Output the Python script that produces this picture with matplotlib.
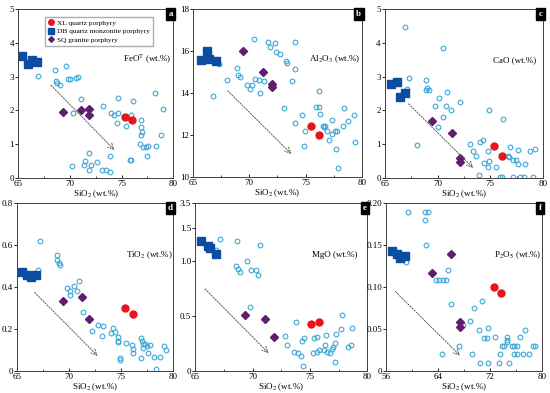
import numpy as np
import matplotlib
matplotlib.use("Agg")
import matplotlib.pyplot as plt

plt.rcParams['font.family'] = ['Liberation Serif', 'DejaVu Serif']
plt.rcParams['mathtext.fontset'] = 'stix'

# ---- data ----
# panel a: FeOT
a_gx = [66.9, 68.6, 69.6, 68.7, 68.8, 69.0, 69.8, 70.0, 70.6, 70.8, 71.1, 70.3, 73.2, 74.0, 74.3,
        74.7, 74.7, 74.6, 75.4, 76.1, 75.95, 76.9, 76.9, 77.0, 76.9, 76.8, 77.1, 77.4, 77.6, 78.3,
        78.8, 78.2, 79.0, 77.5, 75.8, 75.9, 73.9, 71.9, 71.5, 71.4, 72.0, 72.6, 71.9, 73.1, 73.5,
        73.9, 70.2]
a_gy = [3.03, 3.21, 3.31, 2.88, 2.80, 2.74, 2.94, 2.94, 2.97, 3.0, 2.35, 1.93, 2.14, 1.93, 1.86,
        1.91, 2.36, 1.64, 1.53, 2.28, 1.86, 1.73, 1.51, 1.36, 1.26, 1.02, 0.92, 0.92, 0.94, 0.95,
        1.28, 2.52, 2.04, 0.65, 0.52, 0.54, 0.64, 0.74, 0.50, 0.38, 0.38, 0.47, 0.23, 0.23, 0.23,
        0.18, 0.35]
a_bx = [65.4, 66.0, 66.3, 66.8]
a_by = [3.62, 3.38, 3.48, 3.42]
a_rx = [75.3, 76.0]
a_ry = [1.81, 1.73]
a_px = [69.3, 71.1, 71.9, 71.9]
a_py = [1.96, 2.0, 2.04, 1.86]
a_arrow = [(68.0, 2.8), (74.5, 0.77)]

# panel b: Al2O3
b_gx = [67.28, 68.0, 68.9, 68.96, 69.2, 69.8, 70.1, 70.2, 70.5, 70.9, 71.3, 70.98, 70.44, 71.7,
        71.8, 72.25, 72.37, 72.75, 73.3, 73.35, 74.08, 74.02, 73.8, 73.1, 74.08, 74.67, 74.97,
        74.9, 76.15, 75.95, 76.15, 76.24, 76.5, 76.65, 76.75, 76.9, 77.04, 77.3, 77.3, 77.57,
        77.78, 77.7, 78.37, 78.3, 78.8, 79.26, 79.4, 77.9, 66.8]
b_gy = [15.38, 14.6, 15.18, 14.86, 14.78, 14.38, 14.18, 14.4, 14.66, 14.62, 14.58, 13.99, 16.56,
        16.45, 16.2, 16.4, 15.95, 15.86, 15.5, 15.45, 16.45, 15.15, 14.55, 13.28, 12.56, 12.96,
        12.2, 11.49, 14.07, 13.32, 13.32, 12.99, 12.44, 12.4, 12.44, 12.17, 11.74, 12.06, 12.72,
        12.2, 12.2, 11.33, 13.28, 12.44, 12.64, 12.96, 11.65, 10.43, 13.85]
b_bx = [65.7, 66.2, 66.4, 67.0]
b_by = [15.55, 16.0, 15.6, 15.5]
b_rx = [75.45, 76.15]
b_ry = [12.44, 12.0]
b_px = [69.4, 71.2, 72.0, 72.0]
b_py = [16.0, 15.0, 14.45, 14.28]
b_arrow = [(67.9, 14.2), (73.9, 11.0)]

# panel c: CaO
c_gx = [66.9, 70.5, 67.3, 67.06, 68.9, 68.97, 69.2, 68.9, 70.9, 70.17, 69.76, 70.8, 71.25, 72.08,
        70.5, 70.08, 68.08, 74.87, 76.2, 73.1, 73.35, 73.67, 74.05, 74.27, 74.43, 74.78, 74.84,
        74.78, 75.57, 73.98, 75.9, 76.1, 76.84, 76.65, 76.78, 77.16, 77.48, 77.63, 77.6, 78.33,
        78.8, 79.29, 77.16, 77.8, 78.17, 79.06]
c_gy = [4.48, 3.85, 2.96, 2.64, 2.89, 2.67, 2.61, 2.59, 2.54, 2.38, 2.12, 2.14, 2.0, 2.25, 1.8,
        1.5, 0.99, 2.0, 1.75, 1.01, 0.81, 0.66, 1.06, 1.13, 0.44, 0.81, 0.49, 0.32, 0.32, 0.10,
        0.04, 0.04, 0.91, 0.66, 0.61, 0.53, 0.53, 0.83, 0.42, 0.42, 0.81, 0.86, 0.04, 0.04, 0.04,
        0.04]
c_bx = [65.6, 66.1, 66.4, 66.9]
c_by = [2.77, 2.84, 2.41, 2.51]
c_rx = [75.4, 76.1]
c_ry = [0.96, 0.66]
c_px = [69.5, 71.4, 72.08, 72.08]
c_py = [1.68, 1.33, 0.59, 0.47]
c_arrow = [(67.06, 2.25), (73.57, 0.24)]

# panel d: TiO2
d_gx = [67.17, 66.98, 68.83, 68.83, 68.99, 69.15, 69.79, 70.11, 70.11, 70.5, 70.75, 70.97, 71.33,
        72.19, 72.76, 73.24, 73.15, 74.2, 74.4, 74.04, 74.74, 74.74, 74.65, 74.84, 74.9, 75.48,
        76.02, 76.12, 76.18, 76.88, 76.98, 77.08, 77.3, 77.46, 77.14, 77.78, 77.62, 76.88, 78.19,
        78.74, 78.35, 79.12, 79.31]
d_gy = [0.621, 0.483, 0.551, 0.531, 0.515, 0.504, 0.396, 0.38, 0.361, 0.407, 0.38, 0.428, 0.282,
        0.193, 0.219, 0.214, 0.166, 0.203, 0.185, 0.182, 0.162, 0.143, 0.139, 0.063, 0.051, 0.135,
        0.124, 0.103, 0.087, 0.155, 0.143, 0.13, 0.127, 0.119, 0.108, 0.124, 0.087, 0.06, 0.067,
        0.067, 0.008, 0.119, 0.098]
d_bx = [65.5, 66.0, 66.3, 66.8]
d_by = [0.472, 0.46, 0.45, 0.456]
d_rx = [75.4, 76.1]
d_ry = [0.298, 0.273]
d_px = [69.4, 71.23, 71.93]
d_py = [0.333, 0.352, 0.249]
d_arrow = [(66.5, 0.384), (72.92, 0.063)]

# panel e: MgO
e_gx = [67.13, 66.84, 68.64, 70.63, 69.52, 68.59, 68.7, 68.94, 69.9, 70.25, 70.48, 69.81, 73.75,
        72.81, 72.96, 73.6, 73.95, 74.24, 74.33, 74.48, 74.42, 75.35, 75.58, 75.29, 75.64, 75.79,
        76.37, 76.28, 76.22, 76.52, 76.72, 76.9, 77.04, 77.16, 77.3, 77.68, 77.83, 77.16, 78.27,
        78.56, 78.7]
e_gy = [1.206, 1.106, 1.182, 1.145, 1.0, 0.955, 0.933, 0.903, 0.918, 0.918, 0.873, 0.585, 0.448,
        0.321, 0.236, 0.17, 0.161, 0.136, 0.276, 0.303, 0.045, 0.297, 0.312, 0.161, 0.176, 0.19,
        0.327, 0.236, 0.19, 0.176, 0.161, 0.197, 0.221, 0.252, 0.336, 0.379, 0.509, 0.085, 0.221,
        0.236, 0.388]
e_bx = [65.5, 66.08, 66.25, 66.84]
e_by = [1.185, 1.136, 1.124, 1.07]
e_rx = [75.06, 75.79]
e_ry = [0.433, 0.448]
e_px = [69.31, 71.06, 71.85]
e_py = [0.509, 0.473, 0.306]
e_arrow = [(65.67, 0.767), (71.56, 0.145)]
e_ticks = [0, 0.5, 1.0, 1.3, 1.53]
e_ticklabels = ['0', '0.5', '1.0', '1.5', '3.5']

# panel f: P2O5
f_gx = [59.44, 62.0, 62.5, 62.0, 62.17, 59.08, 65.46, 63.7, 64.2, 64.7, 65.2, 65.97, 69.46, 70.75,
        68.95, 67.82, 70.2, 71.1, 71.5, 71.67, 72.8, 74.5, 74.5, 74.5, 73.83, 74.1, 75.37, 75.63,
        76.14, 76.55, 77.27, 75.63, 76.14, 77.07, 77.94, 78.6, 78.87, 73.57, 67.15, 64.58, 69.2,
        70.39, 71.62, 73.3, 74.96]
f_gy = [0.189, 0.19, 0.189, 0.18, 0.150, 0.130, 0.120, 0.109, 0.109, 0.109, 0.109, 0.080, 0.075,
        0.084, 0.060, 0.055, 0.049, 0.039, 0.039, 0.051, 0.041, 0.041, 0.037, 0.035, 0.030, 0.030,
        0.030, 0.030, 0.030, 0.041, 0.049, 0.020, 0.020, 0.020, 0.020, 0.030, 0.030, 0.020, 0.030,
        0.020, 0.020, 0.010, 0.010, 0.010, 0.010]
f_bx = [56.9, 57.7, 58.1, 58.9]
f_by = [0.143, 0.140, 0.135, 0.137]
f_rx = [72.55, 73.73]
f_ry = [0.100, 0.093]
f_px = [63.04, 65.97, 67.3, 67.3]
f_py = [0.117, 0.139, 0.058, 0.052]
f_arrow = [(57.13, 0.097), (67.66, 0.016)]

CYAN = '#3fa7d6'
BLUE = '#0c4da2'
RED = '#e8141c'
PURPLE = '#5f1f6e'

fig = plt.figure(figsize=(5.5, 3.93), dpi=100)

panels = [
    ('a', [0.033, 0.547, 0.282, 0.430], a_gx, a_gy, a_bx, a_by, a_rx, a_ry, a_px, a_py, a_arrow,
     r'FeO$^{\mathrm{T}}$ (wt.%)', (65, 80), [65, 70, 75, 80], (0, 5), [0, 1, 2, 3, 4, 5], None, (0.83, 0.70)),
    ('b', [0.351, 0.550, 0.307, 0.427], b_gx, b_gy, b_bx, b_by, b_rx, b_ry, b_px, b_py, b_arrow,
     r'Al$_2$O$_3$ (wt.%)', (65, 80), [65, 70, 75, 80], (10, 18), [10, 12, 14, 16, 18], None, (0.84, 0.70)),
    ('c', [0.700, 0.547, 0.287, 0.430], c_gx, c_gy, c_bx, c_by, c_rx, c_ry, c_px, c_py, c_arrow,
     'CaO (wt.%)', (65, 80), [65, 70, 75, 80], (0, 5), [0, 1, 2, 3, 4, 5], None, (0.82, 0.70)),
    ('d', [0.031, 0.056, 0.284, 0.427], d_gx, d_gy, d_bx, d_by, d_rx, d_ry, d_px, d_py, d_arrow,
     r'TiO$_2$ (wt.%)', (65, 80), [65, 70, 75, 80], (0, 0.8), [0, 0.2, 0.4, 0.6, 0.8],
     ['0', '0.2', '0.4', '0.6', '0.8'], (0.85, 0.69)),
    ('e', [0.355, 0.056, 0.313, 0.427], e_gx, e_gy, e_bx, e_by, e_rx, e_ry, e_px, e_py, e_arrow,
     'MgO (wt.%)', (65, 80), [65, 70, 75, 80], (0, 1.53), e_ticks, e_ticklabels, (0.81, 0.69)),
    ('f', [0.702, 0.056, 0.284, 0.427], f_gx, f_gy, f_bx, f_by, f_rx, f_ry, f_px, f_py, f_arrow,
     r'P$_2$O$_5$ (wt.%)', (56, 80), [56, 64, 72, 80], (0, 0.2), [0, 0.05, 0.10, 0.15, 0.20],
     ['0', '0.05', '0.10', '0.15', '0.20'], (0.84, 0.69)),
]

for (letter, rect, gx, gy, bx, by, rx, ry, px, py, arrow, label,
     xlim, xticks, ylim, yticks, yticklabels, lpos) in panels:
    ax = fig.add_axes(rect)
    ax.plot(gx, gy, 'o', ms=3.4, mfc='none', mec=CYAN, mew=0.8, ls='none')
    ax.annotate('', xy=arrow[1], xytext=arrow[0],
                arrowprops=dict(arrowstyle='->', ls=(0, (1.5, 1.5)), color='0.35', lw=0.7))
    ax.plot(bx, by, 's', ms=5.2, color=BLUE, ls='none', label='DB quartz monzonite porphyry')
    ax.plot(px, py, 'D', ms=3.6, color=PURPLE, ls='none', label='SQ granite porphyry')
    ax.plot(rx, ry, 'o', ms=5.0, color=RED, ls='none', label='XL quartz porphyry')
    ax.set_xlim(*xlim)
    ax.set_ylim(*ylim)
    ax.set_xticks(xticks)
    ax.set_xticks(np.arange(xlim[0], xlim[1] + 0.01, (xticks[1] - xticks[0]) / 2), minor=True)
    ax.set_yticks(yticks)
    if yticklabels is not None:
        ax.set_yticklabels(yticklabels)
    ax.tick_params(axis='x', direction='in', length=2.5, width=0.6, labelsize=6.5, pad=1.5)
    ax.tick_params(axis='x', which='minor', direction='in', length=1.5, width=0.5)
    ax.tick_params(axis='y', direction='out', length=2, width=0.6, labelsize=6.5, pad=1)
    for s in ax.spines.values():
        s.set_linewidth(0.7)
        s.set_color('0.25')
    ax.set_xlabel(r'SiO$_2$ (wt.%)', fontsize=6.5, labelpad=0)
    ax.text(lpos[0], lpos[1], label, transform=ax.transAxes, ha='center', va='center', fontsize=6.5)
    ax.text(0.997, 0.995, letter, transform=ax.transAxes, ha='right', va='top', color='white',
            fontsize=6.5, fontweight='bold',
            bbox=dict(boxstyle='square,pad=0.25', fc='black', ec='black'))
    if letter == 'a':
        h, l = ax.get_legend_handles_labels()
        order = [2, 0, 1]
        ax.legend([h[i] for i in order], [l[i] for i in order], loc='upper left',
                  bbox_to_anchor=(0.15, 0.975), fontsize=5.3, frameon=True, fancybox=False,
                  edgecolor='0.6', handlelength=0.8, handletextpad=0.4, borderpad=0.4,
                  labelspacing=0.3, markerscale=0.8)

fig.savefig('out.png', dpi=100)
